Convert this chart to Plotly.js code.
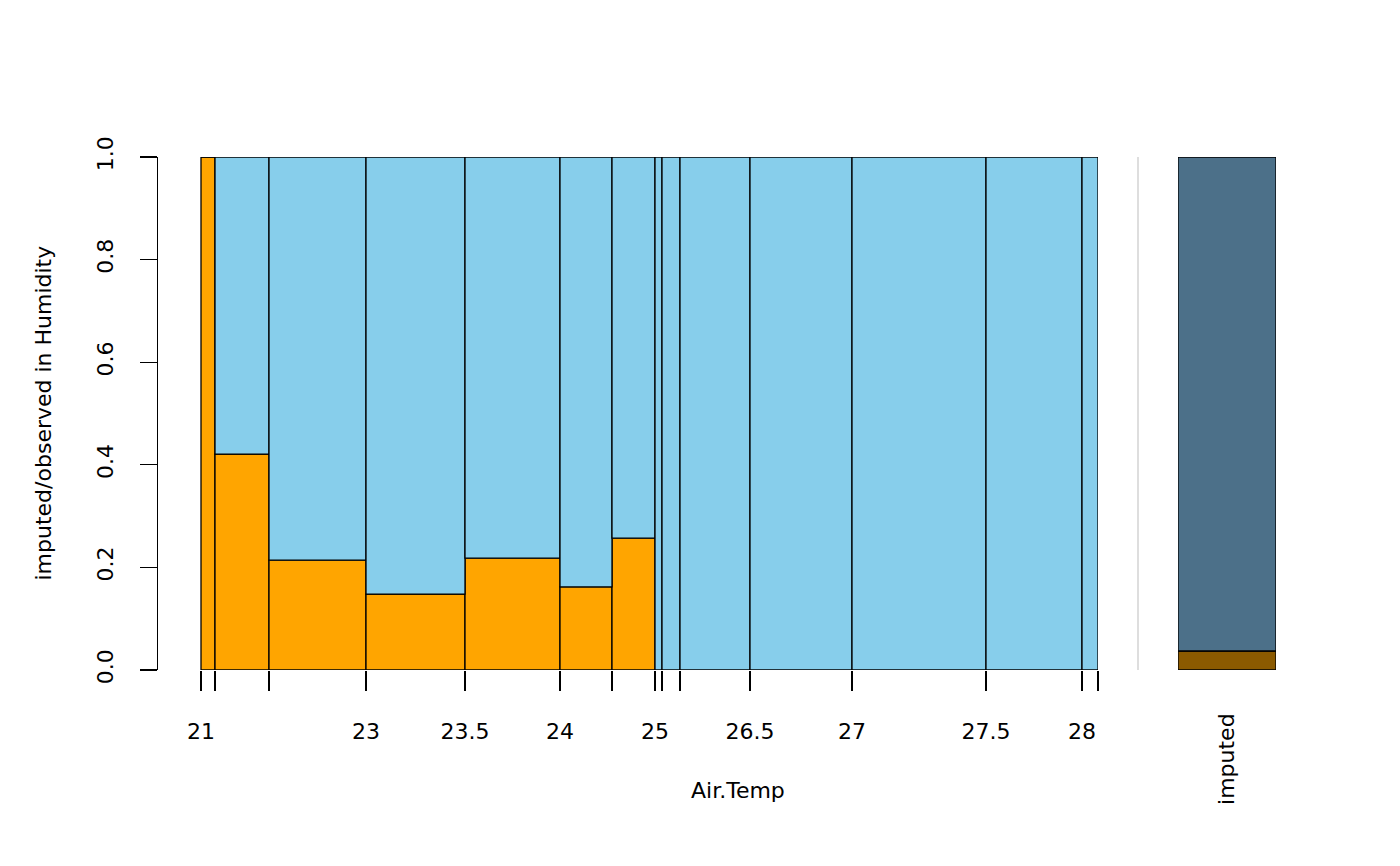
<!DOCTYPE html>
<html>
<head>
<meta charset="utf-8">
<script src="https://cdn.plot.ly/plotly-3.0.1.min.js"></script>
<style>body{margin:0;background:#fff}#chart{width:1400px;height:866px}</style>
</head>
<body>
<div id="chart"></div>
<script>
// spineplot of Air.Temp, share of imputed Humidity per bin
const binWidths = [14, 54, 97, 99, 95, 52, 43, 7, 18, 70, 102, 134, 96, 16];
const imputedShare = [1.0, 0.421, 0.214, 0.148, 0.218, 0.162, 0.257, 0, 0, 0, 0, 0, 0, 0];
const breakLabels = ['21', '', '', '23', '23.5', '24', '', '25', '', '', '26.5', '27', '27.5', '28', ''];
const totalImputed = 0.037;

const edges = [0];
binWidths.forEach(w => edges.push(edges[edges.length - 1] + w));
const centers = binWidths.map((w, i) => edges[i] + w / 2);
const total = edges[edges.length - 1];

const line = { color: '#000', width: 1.3 };
const traces = [
    { type: 'bar', x: centers, y: imputedShare, width: binWidths, base: 0,
      marker: { color: '#FFA500', line: line }, hoverinfo: 'skip' },
    { type: 'bar', x: centers, y: imputedShare.map(v => 1 - v), base: imputedShare, width: binWidths,
      marker: { color: '#87CEEB', line: line }, hoverinfo: 'skip' },
    { type: 'bar', x: [0.5], y: [totalImputed], base: 0, width: [1], xaxis: 'x2', yaxis: 'y2',
      marker: { color: '#8B5A00', line: line } },
    { type: 'bar', x: [0.5], y: [1 - totalImputed], base: [totalImputed], width: [1], xaxis: 'x2', yaxis: 'y2',
      marker: { color: '#4C7089', line: line } }
];

const W = 1400, H = 866;
const font = { family: 'DejaVu Sans, sans-serif', size: 22, color: '#000' };
const layout = {
    width: W, height: H,
    margin: { l: 0, r: 0, t: 0, b: 0 },
    paper_bgcolor: '#fff', plot_bgcolor: 'rgba(0,0,0,0)',
    showlegend: false, barmode: 'overlay', font: font,
    xaxis: {
        domain: [158 / W, 1098 / W], range: [-43, total],
        tickmode: 'array', tickvals: edges, ticktext: breakLabels,
        ticks: 'outside', ticklen: 20, tickcolor: '#000', tickwidth: 1.3,
        ticklabelstandoff: 22, showgrid: false, zeroline: false, showline: false
    },
    yaxis: {
        domain: [(H - 670) / H, (H - 157) / H], range: [0, 1],
        tickvals: [0, 0.2, 0.4, 0.6, 0.8, 1], ticktext: ['0.0', '0.2', '0.4', '0.6', '0.8', '1.0'],
        ticks: 'outside', ticklen: 17, tickcolor: '#000', tickwidth: 1.3, tickangle: -90,
        ticklabelstandoff: 18, showline: true, linecolor: '#000', linewidth: 1.3,
        showgrid: false, zeroline: false
    },
    xaxis2: {
        domain: [1178 / W, 1276 / W], range: [0, 1], anchor: 'y2',
        tickvals: [0.5], ticktext: ['imputed'], tickangle: -90, ticks: '',
        ticklabelstandoff: 38, showgrid: false, zeroline: false, showline: false
    },
    yaxis2: {
        domain: [(H - 670) / H, (H - 157) / H], range: [0, 1], anchor: 'x2',
        visible: false
    },
    shapes: [
        { type: 'line', xref: 'paper', yref: 'paper', x0: 1138 / W, x1: 1138 / W,
          y0: (H - 670) / H, y1: (H - 157) / H, line: { color: '#d3d3d3', width: 1.5 } }
    ],
    annotations: [
        { xref: 'paper', yref: 'paper', x: 738 / W, y: (H - 805) / H, text: 'Air.Temp',
          showarrow: false, font: font },
        { xref: 'paper', yref: 'paper', x: 28 / W, y: (H - 413) / H, text: 'imputed/observed in Humidity',
          showarrow: false, textangle: -90, font: font }
    ]
};

Plotly.newPlot('chart', traces, layout, { displayModeBar: false, staticPlot: true });
</script>
</body>
</html>
